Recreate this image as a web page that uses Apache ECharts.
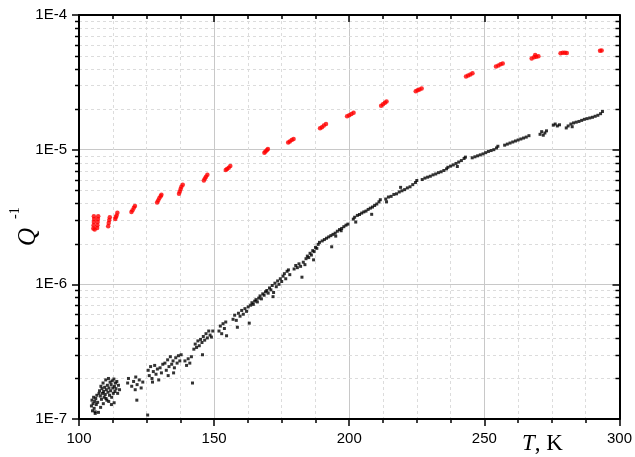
<!DOCTYPE html>
<html>
<head>
<meta charset="utf-8">
<script src="https://cdn.jsdelivr.net/npm/echarts@6/dist/echarts.min.js"></script>
<style>
  html, body { margin: 0; padding: 0; background: #fff; }
  #chart { width: 635px; height: 457px; }
</style>
</head>
<body>
<div id="chart"></div>
<script>
// Q^-1 vs T, log scale
var redPoints = [
  [105.3, 2.6e-6], [105.4, 2.75e-6], [105.5, 2.9e-6], [105.6, 3.05e-6], [105.5, 3.2e-6], [105.8, 2.55e-6],
  [106.8, 2.75e-6], [106.9, 2.9e-6], [107.0, 3.05e-6], [107.1, 3.2e-6], [106.7, 2.62e-6],
  [110.8, 2.7e-6], [111.0, 2.85e-6], [111.2, 3.0e-6], [111.4, 3.15e-6],
  [113.4, 3.05e-6], [113.6, 3.15e-6], [113.9, 3.25e-6], [114.2, 3.4e-6],
  [119.4, 3.45e-6], [119.8, 3.55e-6], [120.3, 3.7e-6], [120.7, 3.82e-6],
  [128.9, 4.05e-6], [129.3, 4.2e-6], [129.7, 4.35e-6], [130.2, 4.5e-6], [130.5, 4.62e-6],
  [137.0, 4.7e-6], [137.3, 4.9e-6], [137.6, 5.1e-6], [137.9, 5.3e-6], [138.4, 5.5e-6],
  [146.2, 5.9e-6], [146.6, 6.1e-6], [147.0, 6.3e-6], [147.5, 6.5e-6],
  [154.3, 7.05e-6], [154.8, 7.2e-6], [155.4, 7.35e-6], [156.0, 7.55e-6],
  [168.6, 9.5e-6], [169.0, 9.7e-6], [169.5, 9.9e-6], [169.9, 1.01e-5],
  [177.4, 1.13e-5], [178.0, 1.15e-5], [178.7, 1.18e-5], [179.4, 1.2e-5],
  [189.2, 1.44e-5], [189.9, 1.47e-5], [190.6, 1.51e-5], [191.4, 1.55e-5],
  [199.2, 1.77e-5], [200.0, 1.8e-5], [200.8, 1.84e-5], [201.6, 1.88e-5],
  [211.8, 2.12e-5], [212.5, 2.17e-5], [213.2, 2.23e-5], [213.8, 2.28e-5],
  [224.6, 2.72e-5], [225.3, 2.76e-5], [226.0, 2.8e-5], [226.8, 2.84e-5],
  [243.2, 3.5e-5], [244.0, 3.56e-5], [244.8, 3.62e-5], [245.6, 3.7e-5],
  [254.3, 4.15e-5], [255.2, 4.22e-5], [256.0, 4.3e-5], [256.8, 4.36e-5],
  [267.5, 4.75e-5], [268.4, 4.85e-5], [269.2, 4.9e-5], [270.0, 4.95e-5], [268.8, 5.05e-5],
  [278.2, 5.2e-5], [279.0, 5.25e-5], [279.8, 5.25e-5], [280.5, 5.22e-5],
  [292.8, 5.42e-5], [293.4, 5.45e-5]
];

var blackPoints = [
  // ~105-115 K cloud
  [104.6, 1.25e-7], [104.8, 1.38e-7], [105.0, 1.15e-7], [105.2, 1.3e-7], [105.4, 1.45e-7], [105.6, 1.2e-7],
  [105.8, 1.35e-7], [106.0, 1.1e-7], [106.2, 1.42e-7], [106.4, 1.28e-7], [106.6, 1.5e-7], [106.9, 1.33e-7],
  [107.2, 1.12e-7], [107.4, 1.55e-7],
  [107.6, 1.62e-7], [107.9, 1.48e-7], [108.1, 1.75e-7], [108.3, 1.4e-7], [108.5, 1.68e-7], [108.7, 1.55e-7],
  [108.9, 1.85e-7], [109.1, 1.6e-7], [109.3, 1.45e-7], [109.5, 1.72e-7], [109.7, 1.52e-7], [109.9, 1.95e-7],
  [110.1, 1.65e-7], [110.3, 1.38e-7], [110.5, 1.78e-7], [110.7, 1.58e-7], [110.9, 2.0e-7], [111.1, 1.7e-7],
  [111.3, 1.5e-7], [111.5, 1.88e-7], [111.7, 1.62e-7], [111.9, 1.8e-7], [112.1, 1.45e-7], [112.3, 1.92e-7],
  [112.5, 1.7e-7], [112.7, 1.55e-7], [112.9, 1.98e-7], [113.1, 1.75e-7], [113.3, 1.6e-7], [113.5, 1.85e-7],
  [113.7, 1.68e-7], [114.0, 1.9e-7], [114.3, 1.55e-7], [114.6, 1.78e-7], [115.0, 1.65e-7],
  [109.0, 1.3e-7], [110.0, 1.42e-7], [111.0, 1.35e-7], [108.0, 1.22e-7], [112.0, 1.28e-7], [113.0, 1.32e-7],
  [106.0, 1.13e-7], [121.4, 1.38e-7], [125.4, 1.07e-7],
  // 118-124 K
  [118.0, 1.85e-7], [118.3, 2.0e-7], [119.5, 1.75e-7], [120.2, 1.9e-7], [120.8, 1.65e-7], [121.5, 1.8e-7],
  [122.3, 1.95e-7], [123.0, 1.7e-7], [123.6, 1.88e-7], [121.0, 2.05e-7],
  // 125-131 K
  [125.6, 2.3e-7], [126.0, 2.1e-7], [126.5, 2.45e-7], [127.0, 2.0e-7], [127.5, 2.25e-7], [128.0, 2.5e-7],
  [128.5, 2.15e-7], [129.0, 2.35e-7], [129.5, 1.95e-7], [130.0, 2.4e-7], [130.5, 2.2e-7], [131.0, 2.55e-7],
  [127.2, 1.88e-7],
  // 131-138 K
  [131.8, 2.6e-7], [132.3, 2.3e-7], [132.8, 2.75e-7], [133.3, 2.45e-7], [133.8, 2.9e-7], [134.3, 2.55e-7],
  [134.8, 2.7e-7], [135.3, 2.4e-7], [135.8, 2.85e-7], [136.3, 2.6e-7], [136.8, 2.95e-7], [137.3, 2.7e-7],
  [137.8, 3.0e-7], [133.0, 2.1e-7], [135.0, 2.2e-7],
  // 139-149 K
  [139.2, 2.7e-7], [139.8, 2.5e-7], [140.4, 2.8e-7], [141.0, 2.6e-7], [141.6, 2.9e-7], [142.0, 1.85e-7],
  [142.5, 3.3e-7], [143.0, 3.6e-7], [143.5, 3.4e-7], [144.0, 3.8e-7], [144.5, 3.5e-7], [145.0, 3.9e-7],
  [145.5, 3.7e-7], [146.0, 4.1e-7], [146.5, 3.85e-7], [147.0, 4.3e-7], [147.5, 4.0e-7], [148.0, 4.5e-7],
  [145.7, 3.0e-7], [148.5, 4.2e-7], [149.0, 4.06e-7], [149.5, 4.5e-7],
  // 151-163 K
  [151.8, 4.5e-7], [152.3, 4.9e-7], [152.8, 4.3e-7], [153.3, 5.1e-7], [153.8, 4.7e-7], [154.3, 5.25e-7],
  [154.6, 4.15e-7],
  [157.0, 5.5e-7], [157.6, 5.9e-7], [158.2, 5.4e-7], [158.6, 4.8e-7], [159.0, 6.1e-7], [159.6, 5.8e-7],
  [160.2, 6.4e-7], [160.8, 6.0e-7], [161.4, 6.6e-7], [162.0, 6.3e-7], [162.6, 6.8e-7], [163.0, 5.15e-7],
  // 163-178 K
  [163.5, 7.0e-7], [164.0, 7.3e-7], [164.5, 7.1e-7], [165.0, 7.5e-7], [165.5, 7.7e-7], [166.0, 7.4e-7],
  [166.5, 7.9e-7], [167.0, 8.2e-7], [167.5, 7.8e-7], [168.0, 8.5e-7], [168.5, 8.3e-7], [169.0, 8.8e-7],
  [169.5, 9.0e-7], [170.0, 8.6e-7], [170.5, 9.4e-7], [171.0, 9.1e-7], [171.5, 9.8e-7], [172.0, 8.7e-7],
  [172.5, 1.02e-6], [173.0, 9.6e-7], [173.5, 1.06e-6], [174.0, 1.0e-6], [174.5, 1.1e-6], [175.0, 1.05e-6],
  [175.5, 1.15e-6], [176.0, 1.2e-6], [176.5, 1.1e-6], [177.0, 1.25e-6], [177.5, 1.28e-6], [178.0, 1.18e-6],
  [171.8, 8.1e-7],
  // 179-189 K
  [179.6, 1.3e-6], [180.2, 1.38e-6], [180.8, 1.33e-6], [181.4, 1.42e-6], [182.0, 1.36e-6], [182.5, 1.13e-6],
  [183.0, 1.46e-6], [183.6, 1.4e-6],
  [184.0, 1.55e-6], [184.5, 1.62e-6], [185.0, 1.58e-6], [185.5, 1.7e-6], [186.0, 1.65e-6], [186.5, 1.78e-6],
  [187.0, 1.75e-6], [187.5, 1.88e-6], [188.0, 1.85e-6], [188.5, 1.98e-6], [189.0, 2.05e-6], [186.8, 1.52e-6],
  // 190-200 K
  [190.0, 2.1e-6], [190.8, 2.15e-6], [191.6, 2.2e-6], [192.4, 2.25e-6], [193.2, 2.3e-6], [193.5, 1.9e-6],
  [194.0, 2.35e-6], [194.8, 2.4e-6], [195.6, 2.48e-6], [196.4, 2.55e-6], [197.2, 2.6e-6], [198.0, 2.68e-6],
  [198.8, 2.75e-6], [199.5, 2.8e-6], [195.0, 2.28e-6], [197.0, 2.5e-6],
  // 201-212 K
  [201.5, 3.05e-6], [202.0, 3.15e-6], [202.4, 2.9e-6], [203.0, 3.25e-6], [203.8, 3.3e-6], [204.6, 3.38e-6],
  [205.4, 3.45e-6], [206.2, 3.5e-6], [207.0, 3.6e-6], [207.8, 3.68e-6], [208.3, 3.31e-6], [208.6, 3.75e-6],
  [209.4, 3.85e-6], [210.2, 3.95e-6], [211.0, 4.1e-6], [211.5, 4.25e-6],
  // 213-225 K
  [213.5, 4.3e-6], [213.8, 4.1e-6], [214.5, 4.45e-6], [215.5, 4.5e-6], [216.5, 4.65e-6], [217.5, 4.7e-6],
  [218.5, 4.85e-6], [219.5, 4.95e-6], [220.5, 5.05e-6], [221.5, 5.2e-6], [222.5, 5.3e-6], [223.5, 5.5e-6],
  [224.5, 5.7e-6], [225.0, 5.9e-6], [219.0, 5.25e-6],
  // 227-243 K
  [227.0, 6.0e-6], [228.0, 6.15e-6], [229.0, 6.25e-6], [230.0, 6.35e-6], [231.0, 6.5e-6], [232.0, 6.6e-6],
  [233.0, 6.75e-6], [234.0, 6.85e-6], [235.0, 7.0e-6], [236.0, 7.2e-6], [236.5, 7.4e-6],
  [237.5, 7.55e-6], [238.5, 7.7e-6], [239.5, 7.9e-6], [240.5, 8.1e-6], [241.5, 8.3e-6], [242.5, 8.6e-6],
  [243.0, 8.8e-6], [240.0, 7.5e-6],
  // 245-267 K
  [245.5, 8.7e-6], [246.5, 8.85e-6], [247.5, 9.0e-6], [248.5, 9.15e-6], [249.5, 9.3e-6], [250.5, 9.5e-6],
  [251.5, 9.7e-6], [252.5, 9.85e-6], [253.5, 1.0e-5], [254.5, 1.03e-5], [255.0, 1.06e-5],
  [257.5, 1.08e-5], [258.5, 1.1e-5], [259.5, 1.12e-5], [260.5, 1.14e-5], [261.5, 1.16e-5], [262.5, 1.18e-5],
  [263.5, 1.2e-5], [264.5, 1.22e-5], [265.5, 1.24e-5], [266.5, 1.27e-5],
  // 270-294 K
  [270.6, 1.3e-5], [271.2, 1.36e-5], [271.8, 1.28e-5], [272.4, 1.33e-5], [273.0, 1.38e-5],
  [275.5, 1.52e-5], [276.2, 1.55e-5], [277.0, 1.5e-5], [277.8, 1.53e-5],
  [280.3, 1.45e-5], [281.0, 1.5e-5], [282.0, 1.55e-5], [283.0, 1.58e-5], [284.0, 1.6e-5], [285.0, 1.62e-5],
  [286.0, 1.65e-5], [287.0, 1.68e-5], [288.0, 1.7e-5], [289.0, 1.72e-5], [290.0, 1.74e-5], [291.0, 1.77e-5],
  [292.0, 1.8e-5], [293.0, 1.85e-5], [293.7, 1.92e-5], [282.5, 1.48e-5]
];

// minor ticks of the log axis (2..9 in each decade)
var yMinorTicks = [
  2e-7, 3e-7, 4e-7, 5e-7, 6e-7, 7e-7, 8e-7, 9e-7,
  2e-6, 3e-6, 4e-6, 5e-6, 6e-6, 7e-6, 8e-6, 9e-6,
  2e-5, 3e-5, 4e-5, 5e-5, 6e-5, 7e-5, 8e-5, 9e-5
];

var chart = echarts.init(document.getElementById('chart'));

var labelFont = 'Liberation Sans, Arial, sans-serif';
var axisBlack = { lineStyle: { color: '#000', width: 2 } };

var option = {
  animation: false,
  backgroundColor: '#fff',
  grid: { left: 79, right: 13, top: 15, bottom: 38 },
  xAxis: [
    {
      type: 'value', min: 100, max: 300, interval: 50,
      axisLine: axisBlack,
      axisTick: { length: 7, lineStyle: { color: '#000', width: 1.5 } },
      minorTick: { show: true, splitNumber: 4, length: 4, lineStyle: { color: '#000', width: 1.5 } },
      splitLine: { show: true, lineStyle: { color: '#c8c8c8', width: 1 } },
      minorSplitLine: { show: true, lineStyle: { color: '#dcdcdc', width: 1, type: [3, 3] } },
      axisLabel: { fontSize: 15, color: '#000', fontFamily: labelFont, margin: 12 }
    },
    {
      type: 'value', min: 100, max: 300, interval: 50, position: 'top',
      axisLine: axisBlack,
      axisTick: { inside: true, length: 7, lineStyle: { color: '#000', width: 1.5 } },
      minorTick: { show: true, splitNumber: 4, length: 4, lineStyle: { color: '#000', width: 1.5 } },
      splitLine: { show: false },
      axisLabel: { show: false }
    }
  ],
  yAxis: [
    {
      type: 'log', logBase: 10, min: 1e-7, max: 1e-4,
      axisLine: axisBlack,
      axisTick: { length: 7, lineStyle: { color: '#000', width: 1.5 } },
      splitLine: { show: true, lineStyle: { color: '#c8c8c8', width: 1 } },
      axisLabel: {
        fontSize: 15, color: '#000', fontFamily: labelFont, margin: 12,
        formatter: function (v) { return '1E' + Math.round(Math.log10(v)); }
      }
    },
    {
      type: 'log', logBase: 10, min: 1e-7, max: 1e-4, position: 'right',
      axisLine: axisBlack,
      axisTick: { inside: true, length: 7, lineStyle: { color: '#000', width: 1.5 } },
      splitLine: { show: false },
      axisLabel: { show: false }
    }
  ],
  graphic: [
    {
      type: 'text', left: 522, top: 432,
      style: {
        text: '{i|T}, K',
        rich: { i: { fontStyle: 'italic', fontFamily: 'Liberation Serif', fontSize: 23 } },
        fontFamily: 'Liberation Serif', fontSize: 23, fill: '#000'
      }
    },
    {
      type: 'text', x: 16, y: 246, rotation: Math.PI / 2,
      style: { text: 'Q', fontStyle: 'italic', fontFamily: 'Liberation Serif', fontSize: 25, fill: '#000' }
    },
    {
      type: 'text', x: 8, y: 219, rotation: Math.PI / 2,
      style: { text: '-1', fontFamily: 'Liberation Serif', fontSize: 14, fill: '#000' }
    }
  ],
  series: [
    {
      type: 'custom',
      xAxisIndex: 0, yAxisIndex: 0,
      clip: false,
      silent: true,
      z: 0,
      data: yMinorTicks.map(function (v) { return [200, v]; }),
      renderItem: function (params, api) {
        var v = api.value(1);
        var a = api.coord([100, v]);
        var b = api.coord([300, v]);
        var y = Math.round(a[1]) + 0.5;
        return {
          type: 'group',
          children: [
            { type: 'line', shape: { x1: a[0], y1: y, x2: b[0], y2: y },
              style: { stroke: '#dcdcdc', lineWidth: 1, lineDash: [3, 3] } },
            { type: 'line', shape: { x1: a[0] - 4, y1: y, x2: a[0], y2: y },
              style: { stroke: '#000', lineWidth: 1.5 } },
            { type: 'line', shape: { x1: b[0] - 4, y1: y, x2: b[0], y2: y },
              style: { stroke: '#000', lineWidth: 1.5 } }
          ]
        };
      }
    },
    {
      name: 'black', type: 'scatter', data: blackPoints,
      symbol: 'rect', symbolSize: 3,
      itemStyle: { color: '#000' }, z: 3
    },
    {
      name: 'red', type: 'scatter', data: redPoints,
      symbol: 'circle', symbolSize: 4.5,
      itemStyle: { color: '#ff0000' }, z: 4
    }
  ]
};

chart.setOption(option);
</script>
</body>
</html>
